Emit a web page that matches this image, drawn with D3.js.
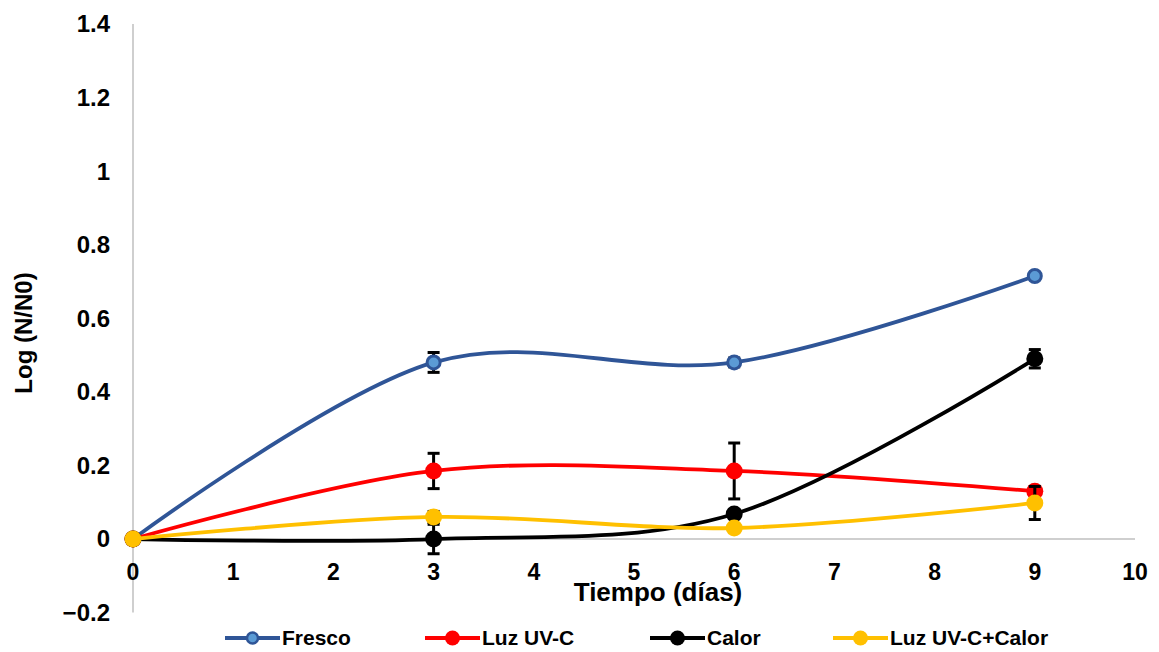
<!DOCTYPE html>
<html><head><meta charset="utf-8">
<script src="https://cdn.jsdelivr.net/npm/d3@7"></script>
<style>
body{margin:0;background:#fff;}
text{font-family:"Liberation Sans",Arial,sans-serif;font-weight:bold;fill:#000;}
</style></head>
<body><svg id="c" width="1159" height="652"></svg>
<script>
const days = [0, 3, 6, 9];
const seriesNames = ["Fresco", "Luz UV-C", "Calor", "Luz UV-C+Calor"];
const fresco = [0, 0.48, 0.48, 0.715];
const frescoErr = [0, 0.027, 0.012, 0.008];
const luzUVC = [0, 0.185, 0.185, 0.13];
const luzUVCErr = [0, 0.048, 0.076, 0.012];
const calor = [0, 0, 0.068, 0.49];
const calorErr = [0, 0.04, 0.01, 0.025];
const luzCalor = [0, 0.06, 0.03, 0.098];
const luzCalorErr = [0, 0.015, 0.005, 0.045];
const xTicks = [0,1,2,3,4,5,6,7,8,9,10];
const yTicks = [-0.2,0,0.2,0.4,0.6,0.8,1,1.2,1.4];

const colors = ["#2F5597", "#FF0000", "#000000", "#FFC000"];
const fills = ["#5B9BD5", "#FF0000", "#000000", "#FFC000"];
const values = [fresco, luzUVC, calor, luzCalor];
const errs = [frescoErr, luzUVCErr, calorErr, luzCalorErr];

const svg = d3.select("#c");
const x = d3.scaleLinear().domain([0,10]).range([133,1135]);
const y = d3.scaleLinear().domain([-0.2,1.4]).range([612.6,24]);

// axes lines
svg.append("line").attr("x1",x(0)).attr("x2",x(0)).attr("y1",y(1.4)).attr("y2",y(-0.2))
  .attr("stroke","#bfbfbf").attr("stroke-width",1.5);
svg.append("line").attr("x1",x(0)).attr("x2",x(10)).attr("y1",y(0)).attr("y2",y(0))
  .attr("stroke","#bfbfbf").attr("stroke-width",1.5);

// y ticks
svg.selectAll(".yt").data(yTicks).enter().append("text")
  .attr("x",110).attr("y",d=>y(d)).attr("dy","0.35em").attr("text-anchor","end")
  .attr("font-size",24).text(d=>d3.format("")(+d.toFixed(1)));
// x ticks
svg.selectAll(".xt").data(xTicks).enter().append("text")
  .attr("x",d=>x(d)).attr("y",y(0)+33).attr("dy","0.35em").attr("text-anchor","middle")
  .attr("font-size",23).text(d=>d);

svg.append("text").attr("x",658).attr("y",592).attr("dy","0.35em").attr("text-anchor","middle")
  .attr("font-size",26).text("Tiempo (días)");
svg.append("text").attr("transform","translate(24,333) rotate(-90)").attr("dy","0.35em")
  .attr("text-anchor","middle").attr("font-size",24).text("Log (N/N0)");

const line = d3.line().x((d,i)=>x(days[i])).y(d=>y(d)).curve(d3.curveCardinal.tension(0));

values.forEach((vals,s)=>{
  const g = svg.append("g");
  g.append("path").attr("d",line(vals)).attr("fill","none").attr("stroke",colors[s]).attr("stroke-width",3.8);
  vals.forEach((v,i)=>{
    const e = errs[s][i];
    if(e>0){
      const cx = x(days[i]);
      g.append("line").attr("x1",cx).attr("x2",cx).attr("y1",y(v+e)).attr("y2",y(v-e)).attr("stroke","#000").attr("stroke-width",3);
      [v+e,v-e].forEach(t=>g.append("line").attr("x1",cx-6).attr("x2",cx+6).attr("y1",y(t)).attr("y2",y(t)).attr("stroke","#000").attr("stroke-width",3));
    }
  });
  vals.forEach((v,i)=>{
    if(s===0){
      g.append("circle").attr("cx",x(days[i])).attr("cy",y(v)).attr("r",6.5).attr("fill",fills[s]).attr("stroke",colors[s]).attr("stroke-width",3);
    } else {
      g.append("circle").attr("cx",x(days[i])).attr("cy",y(v)).attr("r",8.5).attr("fill",fills[s]);
    }
  });
});

// legend
const legX = [225, 425, 650, 833];
seriesNames.forEach((n,s)=>{
  const ly = 638;
  const lx = legX[s];
  svg.append("line").attr("x1",lx).attr("x2",lx+55).attr("y1",ly).attr("y2",ly).attr("stroke",colors[s]).attr("stroke-width",3.8);
  if(s===0) svg.append("circle").attr("cx",lx+27.5).attr("cy",ly).attr("r",5.5).attr("fill",fills[s]).attr("stroke",colors[s]).attr("stroke-width",2.5);
  else svg.append("circle").attr("cx",lx+27.5).attr("cy",ly).attr("r",7.5).attr("fill",fills[s]);
  svg.append("text").attr("x",lx+57).attr("y",ly).attr("dy","0.35em").attr("font-size",21).text(n);
});
</script></body></html>
